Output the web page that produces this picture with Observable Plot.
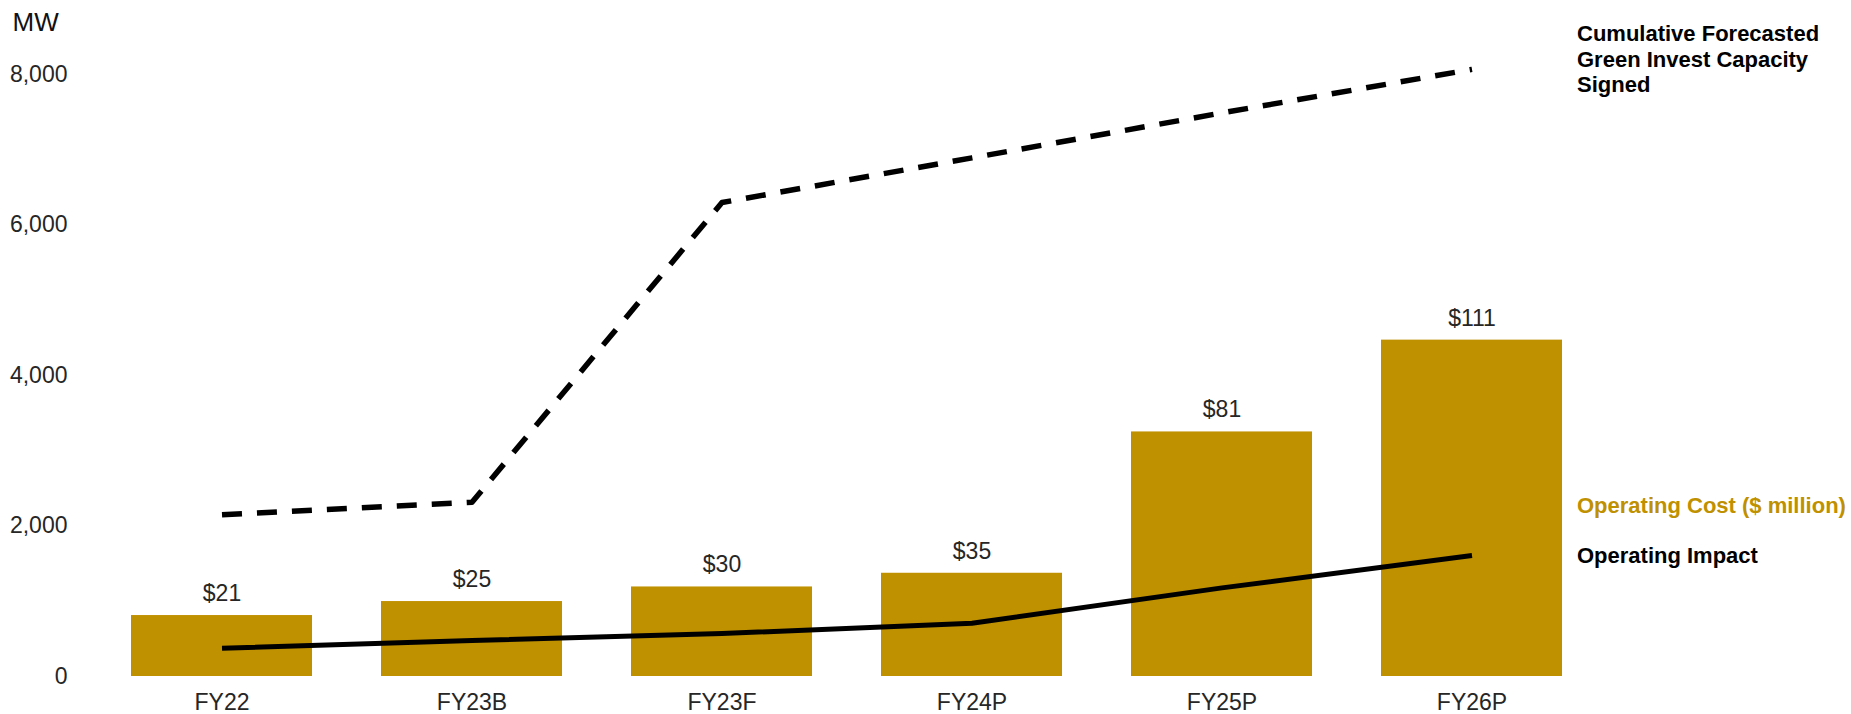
<!DOCTYPE html>
<html>
<head>
<meta charset="utf-8">
<script src="https://cdn.jsdelivr.net/npm/d3@7"></script>
<script src="https://cdn.jsdelivr.net/npm/@observablehq/plot@0.6"></script>
<style>
  html, body { margin: 0; padding: 0; background: #fff; }
  #chart { width: 1851px; height: 714px; }
</style>
</head>
<body>
<div id="chart"></div>
<script>
const categories = ["FY22", "FY23B", "FY23F", "FY24P", "FY25P", "FY26P"];
const costLabels = ["$21", "$25", "$30", "$35", "$81", "$111"];
const barValues = [810, 996, 1190, 1372, 3250, 4470];
const impactValues = [376, 478, 571, 708, 1178, 1607];
const capacityValues = [2151, 2315, 6299, 6892, 7490, 8068];
const yTicks = [0, 2000, 4000, 6000, 8000];
const yUnit = "MW";
const capacityName = "Cumulative Forecasted\nGreen Invest Capacity\nSigned";
const impactName = "Operating Impact";
const costName = "Operating Cost ($ million)";

const gold = "#BF9000";
const rows = categories.map((c, i) => ({
  cat: c, bar: barValues[i], label: costLabels[i],
  impact: impactValues[i], capacity: capacityValues[i]
}));

const chart = Plot.plot({
  width: 1851,
  height: 714,
  marginLeft: 95,
  marginRight: 254,
  marginTop: 74,
  marginBottom: 38,
  style: { fontFamily: "'Liberation Sans', Arial, sans-serif", fontSize: "23px", color: "#262626", background: "#fff", overflow: "visible" },
  x: { domain: categories, padding: 0.277, paddingOuter: 0.1385, label: null },
  y: { domain: [0, 8000], label: null },
  marks: [
    Plot.barY(rows, { x: "cat", y: "bar", fill: gold }),
    Plot.text(rows, { x: "cat", y: "bar", text: "label", dy: -22, fill: "#262626", fontSize: 23 }),
    Plot.line(rows, { x: "cat", y: "capacity", stroke: "#000", strokeWidth: 5.5, strokeDasharray: "20,15", strokeLinecap: "butt" }),
    Plot.line(rows, { x: "cat", y: "impact", stroke: "#000", strokeWidth: 5, strokeLinecap: "butt" }),
    Plot.text(rows, Plot.selectLast({ x: "cat", y: "capacity", text: () => capacityName, dx: 105, dy: -11, textAnchor: "start", fontWeight: "bold", fontSize: 22, lineHeight: 1.16, fill: "#000" })),
    Plot.text(rows, Plot.selectLast({ x: "cat", y: "impact", text: () => impactName, dx: 105, textAnchor: "start", fontWeight: "bold", fontSize: 22, fill: "#000" })),
    Plot.text(rows, Plot.selectLast({ x: "cat", y: "impact", text: () => costName, dx: 105, dy: -50, textAnchor: "start", fontWeight: "bold", fontSize: 22, fill: gold })),
    Plot.text([yUnit], { frameAnchor: "top-left", text: d => d, dx: -83, dy: -52, textAnchor: "start", lineAnchor: "middle", fontSize: 26, fill: "#111" }),
    Plot.axisX({ tickSize: 0, tickPadding: 17, fontSize: 23, label: null }),
    Plot.axisY({ ticks: yTicks, tickFormat: d3.format(","), tickSize: 0, tickPadding: 28, fontSize: 23, label: null })
  ]
});
document.getElementById("chart").appendChild(chart);
</script>
</body>
</html>
